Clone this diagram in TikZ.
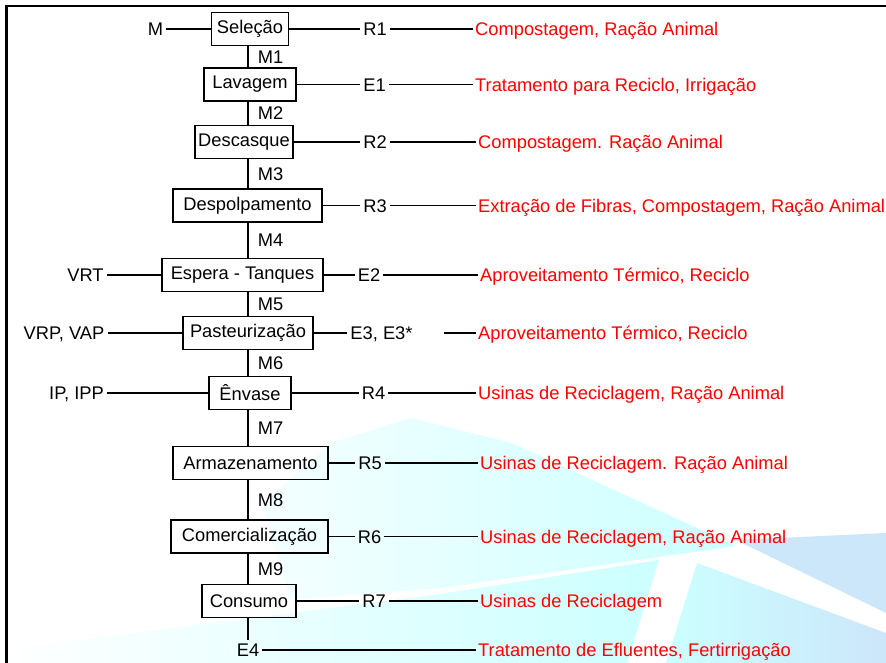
\documentclass[tikz,border=0pt]{standalone}
\usepackage{fontspec}
\setmainfont{Liberation Sans}
\usepackage{tikz}
\usetikzlibrary{positioning}
\definecolor{marcaC}{RGB}{204,255,255}
\definecolor{marcaA}{RGB}{204,230,250}
\tikzset{
  etapa/.style = {draw=black, line width=1.5pt, rectangle, inner sep=0pt,
    minimum width=#1, minimum height=33pt},% caixa de etapa do processo
  rotulo/.style = {inner sep=3pt, text height=13.1pt, text depth=0pt},% rotulo preto
  dest/.style = {rotulo, red, anchor=west, inner xsep=2pt},% destino, em vermelho
  lig/.style = {line width=1.6pt}% linha de ligacao
}

\begin{document}
\begin{tikzpicture}[x=1pt,y=-1pt,font=\fontsize{18.3}{21}\selectfont]
\useasboundingbox (0,0) rectangle (886,663);

% marca d'agua
\shade[left color=marcaC!20, middle color=marcaC!85, right color=marcaC]
  (736,546) -- (512,443) -- (411,418) -- (330,443) -- (262,505)
  -- (290,600) -- (440,588) -- (659,557) -- cycle;
\shade[left color=white, right color=marcaC]
  (659,560) -- (440,594) -- (0,650) -- (0,663) -- (627,663) -- cycle;
\shade[left color=marcaC, right color=marcaA]
  (697,563) -- (666,663) -- (886,663) -- (886,633) -- cycle;
\fill[marcaA] (736,540) -- (886,533) -- (886,613) -- cycle;

% moldura
\draw[line width=2.5pt] (6.5,663) -- (6.5,6) -- (886,6);

\coordinate (espinha) at (248,0);

% etapas
\node [etapa=77pt]  (sel)  at (250,29)    {Seleção};
\node [etapa=92pt]  (lav)  at (250,84.5)  {Lavagem};
\node [etapa=98pt]  (desc) at (244,142)   {Descasque};
\node [etapa=149pt] (desp) at (247.5,205.5) {Despolpamento};
\node [etapa=161pt] (esp)  at (242.5,275) {Espera - Tanques};
\node [etapa=130pt] (past) at (248,333)   {Pasteurização};
\node [etapa=82pt]  (env)  at (250,393)   {Ênvase};
\node [etapa=155pt] (arm)  at (250.5,463) {Armazenamento};
\node [etapa=157pt] (com)  at (249.5,536.5) {Comercialização};
\node [etapa=94pt]  (cons) at (249,601)   {Consumo};
\node [rotulo] (e4) at (248,650) {E4};

% fluxo principal
\draw[lig] (sel.south -| espinha) -- node[rotulo, right=6pt] {M1} (lav.north -| espinha);
\draw[lig] (lav.south -| espinha) -- node[rotulo, right=6pt] {M2} (desc.north -| espinha);
\draw[lig] (desc.south -| espinha) -- node[rotulo, right=6pt] {M3} (desp.north -| espinha);
\draw[lig] (desp.south -| espinha) -- node[rotulo, right=6pt] {M4} (esp.north -| espinha);
\draw[lig] (esp.south -| espinha) -- node[rotulo, right=6pt] {M5} (past.north -| espinha);
\draw[lig] (past.south -| espinha) -- node[rotulo, right=6pt] {M6} (env.north -| espinha);
\draw[lig] (env.south -| espinha) -- node[rotulo, right=6pt] {M7} (arm.north -| espinha);
\draw[lig] (arm.south -| espinha) -- node[rotulo, right=6pt] {M8} (com.north -| espinha);
\draw[lig] (com.south -| espinha) -- node[rotulo, right=6pt] {M9} (cons.north -| espinha);
\draw[lig] (cons.south -| espinha) -- (e4.north -| espinha);

% entradas
\node [rotulo] (m)   at (155.5,29) {M};
\node [rotulo] (vrt) at (85.5,275) {VRT};
\node [rotulo] (vrp) at (64,333)   {VRP, VAP};
\node [rotulo] (ip)  at (76.5,393) {IP, IPP};
\draw[lig] (m) -- (sel);
\draw[lig] (vrt) -- (esp);
\draw[lig] (vrp) -- (past);
\draw[lig] (ip) -- (env);

% saidas
\node [rotulo] (r1) at (375,29)    {R1};
\node [rotulo] (e1) at (374.5,84.5) {E1};
\node [rotulo] (r2) at (375,142)   {R2};
\node [rotulo] (r3) at (375,205.5) {R3};
\node [rotulo] (e2) at (369,275)   {E2};
\node [rotulo] (e3) at (381.5,333) {E3, E3*};
\node [rotulo] (r4) at (373.5,393) {R4};
\node [rotulo] (r5) at (370,463)   {R5};
\node [rotulo] (r6) at (369.5,536.5) {R6};
\node [rotulo] (r7) at (374,601)   {R7};

% destinos
\node [dest] (d1)  at (473,29)    {Compostagem, Ração Animal};
\node [dest] (d2)  at (473,84.5)  {Tratamento para Reciclo, Irrigação};
\node [dest] (d3)  at (476,142)   {Compostagem. Ração Animal};
\node [dest] (d4)  at (476,205.5) {Extração de Fibras, Compostagem, Ração Animal};
\node [dest] (d5)  at (478,275)   {Aproveitamento Térmico, Reciclo};
\node [dest] (d6)  at (476,333)   {Aproveitamento Térmico, Reciclo};
\node [dest] (d7)  at (476,393)   {Usinas de Reciclagem, Ração Animal};
\node [dest] (d8)  at (478,463)   {Usinas de Reciclagem. Ração Animal};
\node [dest] (d9)  at (478,536.5) {Usinas de Reciclagem, Ração Animal};
\node [dest] (d10) at (478,601)   {Usinas de Reciclagem};
\node [dest] (d11) at (476,650)   {Tratamento de Efluentes, Fertirrigação};

\draw[lig] (sel) -- (r1);  \draw[lig] (r1) -- (d1);
\draw[lig] (lav) -- (e1);  \draw[lig] (e1) -- (d2);
\draw[lig] (desc) -- (r2); \draw[lig] (r2) -- (d3);
\draw[lig] (desp) -- (r3); \draw[lig] (r3) -- (d4);
\draw[lig] (esp) -- (e2);  \draw[lig] (e2) -- (d5);
\draw[lig] (past) -- (e3); \draw[lig, shorten <=28pt] (e3) -- (d6);
\draw[lig] (env) -- (r4);  \draw[lig] (r4) -- (d7);
\draw[lig] (arm) -- (r5);  \draw[lig] (r5) -- (d8);
\draw[lig] (com) -- (r6);  \draw[lig] (r6) -- (d9);
\draw[lig] (cons) -- (r7); \draw[lig] (r7) -- (d10);
\draw[lig] (e4) -- (d11);
\end{tikzpicture}
\end{document}
